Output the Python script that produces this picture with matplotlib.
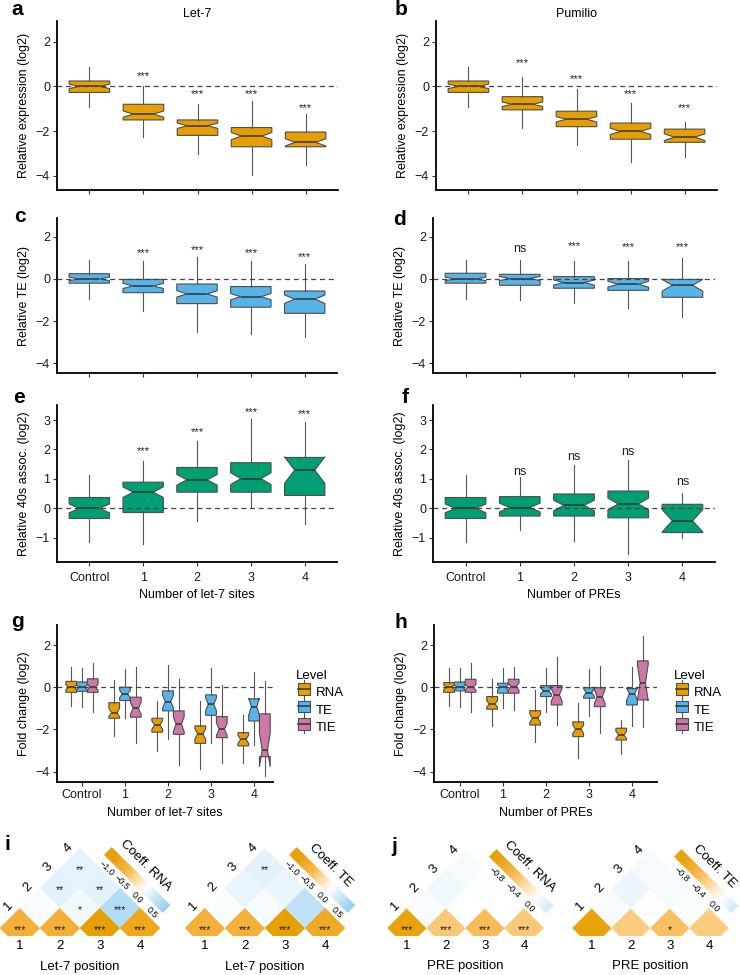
import matplotlib
matplotlib.use('Agg')
from matplotlib import pyplot as plt
from matplotlib.patches import Polygon, Rectangle, Patch
from matplotlib.lines import Line2D
from matplotlib.legend_handler import HandlerBase
from matplotlib.colors import LinearSegmentedColormap, Normalize
import numpy as np

plt.rcParams['font.family'] = ['Liberation Sans', 'DejaVu Sans']
plt.rcParams['font.size'] = 9

orange = '#E69F00'
blue = '#56B4E9'
green = '#009E73'
pink = '#CC79A7'

groups = ['Control', '1', '2', '3', '4']

# panel a: Let-7, relative expression
a_lo = [-0.90, -2.24, -3.02, -3.94, -3.53]
a_q1 = [-0.27, -1.50, -2.19, -2.70, -2.70]
a_med = [0.00, -1.24, -1.76, -2.22, -2.50]
a_q3 = [0.24, -0.80, -1.50, -1.84, -2.04]
a_hi = [0.87, 0.03, -0.80, -0.64, -1.24]
a_notch = [0.10, 0.14, 0.12, 0.16, 0.16]
a_sig = ['', '***', '***', '***', '***']
a_sig_y = [0, 0.46, -0.36, -0.33, -0.95]

# panel b: Pumilio, relative expression
b_lo = [-0.90, -1.84, -2.60, -3.36, -3.17]
b_q1 = [-0.27, -1.05, -1.80, -2.36, -2.50]
b_med = [0.00, -0.80, -1.47, -2.01, -2.27]
b_q3 = [0.24, -0.46, -1.11, -1.64, -1.91]
b_hi = [0.87, 0.40, -0.13, -0.75, -1.57]
b_notch = [0.10, 0.10, 0.12, 0.14, 0.15]
b_sig = ['', '***', '***', '***', '***']
b_sig_y = [0, 1.02, 0.31, -0.36, -0.95]

# panel c: Let-7, relative TE
c_lo = [-0.93, -1.50, -2.50, -2.62, -2.73]
c_q1 = [-0.20, -0.65, -1.17, -1.34, -1.63]
c_med = [0.00, -0.33, -0.71, -0.84, -0.96]
c_q3 = [0.25, -0.02, -0.24, -0.36, -0.57]
c_hi = [0.90, 0.87, 1.03, 0.87, 0.71]
c_notch = [0.08, 0.12, 0.15, 0.15, 0.20]
c_sig = ['', '***', '***', '***', '***']
c_sig_y = [0, 1.22, 1.38, 1.22, 1.06]

# panel d: Pumilio, relative TE
d_lo = [-0.93, -1.00, -1.15, -1.36, -1.79]
d_q1 = [-0.20, -0.30, -0.44, -0.54, -0.87]
d_med = [0.00, 0.02, -0.17, -0.25, -0.30]
d_q3 = [0.27, 0.22, 0.11, 0.02, -0.02]
d_hi = [0.90, 0.90, 0.87, 0.85, 0.98]
d_notch = [0.08, 0.10, 0.12, 0.14, 0.28]
d_sig = ['', 'ns', '***', '***', '***']
d_sig_y = [0, 1.40, 1.58, 1.53, 1.50]

# panel e: Let-7, 40s association
e_lo = [-1.13, -1.22, -0.43, 0.00, -0.53]
e_q1 = [-0.34, -0.14, 0.55, 0.55, 0.44]
e_med = [0.00, 0.55, 0.97, 1.01, 1.30]
e_q3 = [0.37, 0.89, 1.39, 1.55, 1.73]
e_hi = [1.13, 1.61, 2.29, 3.02, 2.92]
e_notch = [0.15, 0.18, 0.18, 0.20, 0.45]
e_sig = ['', '***', '***', '***', '***']
e_sig_y = [0, 1.95, 2.58, 3.26, 3.19]

# panel f: Pumilio, 40s association
f_lo = [-1.13, -0.74, -1.11, -1.56, -1.02]
f_q1 = [-0.34, -0.26, -0.26, -0.32, -0.82]
f_med = [0.00, 0.03, 0.10, 0.15, -0.42]
f_q3 = [0.37, 0.40, 0.49, 0.59, 0.14]
f_hi = [1.13, 1.08, 1.49, 1.64, 0.53]
f_notch = [0.15, 0.15, 0.18, 0.20, 0.38]
f_sig = ['', 'ns', 'ns', 'ns', 'ns']
f_sig_y = [0, 1.25, 1.73, 1.93, 0.90]

# panel g: Let-7 fold change by level
g_rna_lo = [-0.89, -2.29, -3.00, -3.87, -3.60]
g_rna_q1 = [-0.24, -1.47, -2.13, -2.66, -2.78]
g_rna_med = [0.00, -1.20, -1.79, -2.21, -2.47]
g_rna_q3 = [0.28, -0.73, -1.47, -1.83, -2.15]
g_rna_hi = [0.98, 0.35, -0.65, -0.65, -1.31]
g_rna_notch = [0.12, 0.20, 0.20, 0.25, 0.20]
g_te_lo = [-0.92, -1.47, -2.47, -2.62, -2.74]
g_te_q1 = [-0.19, -0.63, -1.12, -1.33, -1.60]
g_te_med = [0.00, -0.32, -0.68, -0.81, -0.92]
g_te_q3 = [0.25, 0.00, -0.17, -0.36, -0.55]
g_te_hi = [0.93, 0.87, 1.06, 0.90, 0.74]
g_te_notch = [0.10, 0.18, 0.30, 0.30, 0.40]
g_tie_lo = [-1.15, -2.66, -3.68, -3.57, -4.20]
g_tie_q1 = [-0.24, -1.42, -2.23, -2.39, -3.29]
g_tie_med = [0.00, -1.00, -1.75, -1.99, -2.97]
g_tie_q3 = [0.40, -0.47, -1.12, -1.39, -1.26]
g_tie_hi = [1.14, 0.98, 0.38, 0.11, 0.30]
g_tie_notch = [0.15, 0.30, 0.35, 0.30, 0.80]

# panel h: Pumilio fold change by level
h_rna_lo = [-0.89, -1.83, -2.58, -3.37, -3.16]
h_rna_q1 = [-0.24, -1.04, -1.79, -2.34, -2.50]
h_rna_med = [0.00, -0.79, -1.47, -1.99, -2.26]
h_rna_q3 = [0.22, -0.44, -1.11, -1.64, -1.94]
h_rna_hi = [0.90, 0.40, -0.13, -0.76, -1.55]
h_rna_notch = [0.12, 0.15, 0.20, 0.20, 0.18]
h_te_lo = [-0.92, -1.00, -1.15, -1.36, -1.82]
h_te_q1 = [-0.17, -0.28, -0.44, -0.52, -0.84]
h_te_med = [0.00, 0.00, -0.17, -0.25, -0.32]
h_te_q3 = [0.25, 0.19, 0.08, -0.02, -0.06]
h_te_hi = [0.90, 0.89, 0.89, 0.85, 0.98]
h_te_notch = [0.10, 0.12, 0.15, 0.18, 0.30]
h_tie_lo = [-1.19, -1.08, -1.79, -2.18, -1.87]
h_tie_q1 = [-0.24, -0.28, -0.84, -0.92, -0.60]
h_tie_med = [0.00, 0.03, -0.36, -0.44, 0.22]
h_tie_q3 = [0.38, 0.38, 0.08, -0.02, 1.25]
h_tie_hi = [1.14, 0.98, 1.45, 1.03, 2.45]
h_tie_notch = [0.15, 0.18, 0.30, 0.35, 0.85]

levels = ['RNA', 'TE', 'TIE']

# panels i, j: lower triangle of coefficients (row k holds positions 1..k, last = diagonal)
i_rna = [[-0.70], [0.04, -0.70], [0.16, 0.08, -0.98], [0.15, 0.16, 0.45, -0.84]]
i_rna_sig = [['***'], ['', '***'], ['**', '*', '***'], ['**', '**', '***', '***']]
i_te = [[-0.68], [0.03, -0.68], [0.13, 0.06, -0.98], [0.17, 0.12, 0.38, -0.80]]
i_te_sig = [['***'], ['', '***'], ['', '', '***'], ['**', '', '', '***']]
j_rna = [[-0.94], [0.04, -0.45], [0.10, 0.00, -0.55], [0.05, 0.01, 0.00, -0.45]]
j_rna_sig = [['***'], ['', '***'], ['', '', '***'], ['', '', '', '***']]
j_te = [[-0.94], [0.06, -0.42], [0.12, 0.02, -0.52], [0.07, 0.05, 0.03, -0.42]]
j_te_sig = [['', ], ['', ''], ['', '', '*'], ['', '', '', '']]
i_ticks = [-1.0, -0.5, 0.0, 0.5]
j_ticks = [-0.8, -0.4, 0.0]

W, H = 740, 975
fig = plt.figure(figsize=(7.4, 9.75), dpi=100)


def px_axes(l, t, r, b):
    return fig.add_axes([l / W, 1 - b / H, (r - l) / W, (b - t) / H])


def style(ax, yticks, ylim, xlim):
    for s in ['top', 'right']:
        ax.spines[s].set_visible(False)
    for s in ['left', 'bottom']:
        ax.spines[s].set_linewidth(1.3)
        ax.spines[s].set_color('black')
    ax.set_xlim(xlim)
    ax.set_ylim(ylim)
    ax.set_yticks(yticks)
    ax.tick_params(length=3, width=0.8, color='#333333', labelsize=9, pad=2,
                   labelcolor='#1a1a1a')
    ax.axhline(0, color='#444444', lw=0.9, ls=(0, (4, 3)), zorder=3)


def boxes(ax, lo, q1, med, q3, hi, notch, pos, width, color):
    stats = []
    for k in range(len(med)):
        stats.append(dict(whislo=lo[k], q1=q1[k], med=med[k], q3=q3[k], whishi=hi[k],
                          cilo=med[k] - notch[k], cihi=med[k] + notch[k], fliers=[]))
    ax.bxp(stats, positions=pos, widths=width, shownotches=True, patch_artist=True,
           showcaps=False, showfliers=False,
           boxprops=dict(facecolor=color, edgecolor='#4d4d4d', linewidth=0.8),
           whiskerprops=dict(color='#555555', linewidth=0.8),
           medianprops=dict(color='#333333', linewidth=1.1),
           manage_ticks=False)


def sig_text(ax, pos, sig, sig_y):
    for p, s, y in zip(pos, sig, sig_y):
        if s == '***':
            ax.text(p, y, s, ha='center', va='center', fontsize=8, color='#222222')
        elif s:
            ax.text(p, y, s, ha='center', va='center', fontsize=9, color='#222222')


pos5 = [1, 2, 3, 4, 5]
single = [
    ('a', (57, 21, 338, 190), [a_lo, a_q1, a_med, a_q3, a_hi, a_notch], a_sig, a_sig_y, orange,
     'Relative expression (log2)', (-4.63, 2.92), [-4, -2, 0, 2], 'Let-7', None),
    ('b', (436, 21, 717, 190), [b_lo, b_q1, b_med, b_q3, b_hi, b_notch], b_sig, b_sig_y, orange,
     'Relative expression (log2)', (-4.63, 2.92), [-4, -2, 0, 2], 'Pumilio', None),
    ('c', (57, 218, 337, 373), [c_lo, c_q1, c_med, c_q3, c_hi, c_notch], c_sig, c_sig_y, blue,
     'Relative TE (log2)', (-4.46, 2.89), [-4, -2, 0, 2], None, None),
    ('d', (433, 218, 715, 373), [d_lo, d_q1, d_med, d_q3, d_hi, d_notch], d_sig, d_sig_y, blue,
     'Relative TE (log2)', (-4.46, 2.89), [-4, -2, 0, 2], None, None),
    ('e', (57, 405, 337, 562), [e_lo, e_q1, e_med, e_q3, e_hi, e_notch], e_sig, e_sig_y, green,
     'Relative 40s assoc. (log2)', (-1.82, 3.51), [-1, 0, 1, 2, 3], None, 'Number of let-7 sites'),
    ('f', (433, 405, 715, 562), [f_lo, f_q1, f_med, f_q3, f_hi, f_notch], f_sig, f_sig_y, green,
     'Relative 40s assoc. (log2)', (-1.82, 3.51), [-1, 0, 1, 2, 3], None, 'Number of PREs'),
]

for name, rect, st, sig, sig_y, col, ylab, ylim, yt, title, xlab in single:
    ax = px_axes(*rect)
    style(ax, yt, ylim, (0.4, 5.6))
    boxes(ax, *st, pos5, 0.75, col)
    sig_text(ax, pos5, sig, sig_y)
    ax.set_xticks(pos5)
    if xlab:
        ax.set_xticklabels(groups)
        ax.tick_params(axis='x', pad=4)
        ax.set_xlabel(xlab, fontsize=9, labelpad=4)
    else:
        ax.set_xticklabels([])
    ax.set_ylabel(ylab, fontsize=9, labelpad=4)
    if title:
        ax.set_title(title, fontsize=9, pad=3)


class BoxHandler(HandlerBase):
    def create_artists(self, legend, orig_handle, xd, yd, width, height, fontsize, trans):
        c = orig_handle.get_facecolor()
        x0 = xd + width * 0.1
        w = width * 0.8
        whisk = Line2D([xd + width / 2] * 2, [yd - height * 0.25, yd + height * 1.25],
                       color='#555555', lw=0.8, transform=trans)
        r = Rectangle((x0, yd), w, height, facecolor=c, edgecolor='#4d4d4d', lw=0.8,
                      transform=trans)
        m = Line2D([x0, x0 + w], [yd + height / 2] * 2, color='#333333', lw=1.1, transform=trans)
        return [whisk, r, m]


multi = [
    ('g', (57, 625, 273, 782), (0.42, 5.44), 'Number of let-7 sites', (296, 670),
     [[g_rna_lo, g_rna_q1, g_rna_med, g_rna_q3, g_rna_hi, g_rna_notch],
      [g_te_lo, g_te_q1, g_te_med, g_te_q3, g_te_hi, g_te_notch],
      [g_tie_lo, g_tie_q1, g_tie_med, g_tie_q3, g_tie_hi, g_tie_notch]]),
    ('h', (434, 625, 657, 782), (0.40, 5.58), 'Number of PREs', (674, 670),
     [[h_rna_lo, h_rna_q1, h_rna_med, h_rna_q3, h_rna_hi, h_rna_notch],
      [h_te_lo, h_te_q1, h_te_med, h_te_q3, h_te_hi, h_te_notch],
      [h_tie_lo, h_tie_q1, h_tie_med, h_tie_q3, h_tie_hi, h_tie_notch]]),
]
level_colors = [orange, blue, pink]
for name, rect, xlim, xlab, leg_at, sets in multi:
    ax = px_axes(*rect)
    style(ax, [-4, -2, 0, 2], (-4.49, 2.95), xlim)
    for k, st in enumerate(sets):
        p = [x + (k - 1) * 0.25 for x in pos5]
        boxes(ax, *st, p, 0.25, level_colors[k])
    ax.set_xticks(pos5)
    ax.set_xticklabels(groups)
    ax.set_xlabel(xlab, fontsize=9, labelpad=4)
    ax.set_ylabel('Fold change (log2)', fontsize=9, labelpad=4)
    handles = [Patch(facecolor=c) for c in level_colors]
    fig.legend(handles, levels, title='Level', loc='upper left',
               bbox_to_anchor=(leg_at[0] / W, 1 - leg_at[1] / H), frameon=False,
               fontsize=9.5, title_fontsize=9.5, handlelength=1.2, handleheight=1.0,
               labelspacing=0.3, handletextpad=0.3, borderpad=0, borderaxespad=0,
               alignment='left', handler_map={Patch: BoxHandler()})

# heatmaps: orange (negative) - white - blue (positive)
cmap = LinearSegmentedColormap.from_list(
    'ob', [(0.0, orange), (0.2, '#F8B548'), (0.35, '#FDDCA5'), (0.5, 'white'), (1.0, blue)])
norm = Normalize(-1, 1)


def heat(c1, u, vals, sig, bar_lo, bar_hi, ticks, title, xlab):
    ax = px_axes(c1 - u, 928 - 2.5 * u, c1 + 4.5 * u, 928 + 1.2 * u)
    ax.set_xlim(0, 5.5)
    ax.set_ylim(-1.2, 2.5)
    ax.axis('off')
    clip = Rectangle((0, -0.2), 5.5, 3.0, transform=ax.transData)
    for i in range(4):
        for j in range(i + 1):
            cx = (i + j) / 2 + 1
            cy = (i - j) / 2
            col = cmap(norm(vals[i][j]))
            p = Polygon([(cx - 0.5, cy), (cx, cy + 0.5), (cx + 0.5, cy), (cx, cy - 0.5)],
                        closed=True, facecolor=col, edgecolor=col, lw=0.3)
            ax.add_patch(p)
            p.set_clip_path(clip)
            if sig[i][j]:
                ax.text(cx, cy - 0.05, sig[i][j], ha='center', va='center', fontsize=7.5,
                        color='#222222')
    for k in range(4):
        ax.text(k + 1, -0.46, str(k + 1), ha='center', va='center', fontsize=9.5)
        ax.text(0.5 * (k + 1) + 0.2, 0.48 * (k + 1) + 0.07, str(k + 1), ha='center',
                va='center', fontsize=9.5, rotation=45)
    ax.text(2.5, -0.97, xlab, ha='center', va='center', fontsize=9.5)
    # colour bar drawn along the diagonal
    S = np.array([3.2, 1.92])
    E = np.array([4.66, 0.48])
    L = np.linalg.norm(E - S)
    uv = (E - S) / L
    nv = np.array([uv[1], -uv[0]])
    n = 60
    hw = 0.13
    for s in range(n):
        t0, t1 = s / n, (s + 1) / n
        v = bar_lo + (t0 + t1) / 2 * (bar_hi - bar_lo)
        a0 = S + t0 * L * uv
        a1 = S + t1 * L * uv
        col = cmap(norm(v))
        ax.add_patch(Polygon([a0 + hw * nv, a1 + hw * nv, a1 - hw * nv, a0 - hw * nv],
                             closed=True, facecolor=col, edgecolor=col, lw=0.3))
    for tv in ticks:
        t = (tv - bar_lo) / (bar_hi - bar_lo)
        q = S + t * L * uv + 0.33 * nv
        ax.text(q[0], q[1], f'{tv:.1f}'.replace('-', '\u2212'), ha='center', va='center',
                fontsize=6.5, rotation=-45)
    q = S + 0.45 * L * uv - 0.42 * nv
    ax.text(q[0], q[1], title, ha='center', va='center', fontsize=9.5, rotation=-45)


heat(20, 40, i_rna, i_rna_sig, -1.25, 0.68, i_ticks, 'Coeff. RNA', 'Let-7 position')
heat(205, 40, i_te, i_te_sig, -1.25, 0.68, i_ticks, 'Coeff. TE', 'Let-7 position')
heat(407, 39, j_rna, j_rna_sig, -1.12, 0.30, j_ticks, 'Coeff. RNA', 'PRE position')
heat(592, 39, j_te, j_te_sig, -1.12, 0.30, j_ticks, 'Coeff. TE', 'PRE position')

# panel letters
letters = [('a', 17, 15), ('b', 401, 15), ('c', 20, 222), ('d', 400, 225), ('e', 19, 403),
           ('f', 405, 403), ('g', 18, 627), ('h', 401, 628), ('i', 7, 850), ('j', 394, 852)]
for s, x, y in letters:
    fig.text(x / W, 1 - y / H, s, fontsize=15, fontweight='bold', ha='center', va='baseline')

fig.savefig('out.png', dpi=100)
